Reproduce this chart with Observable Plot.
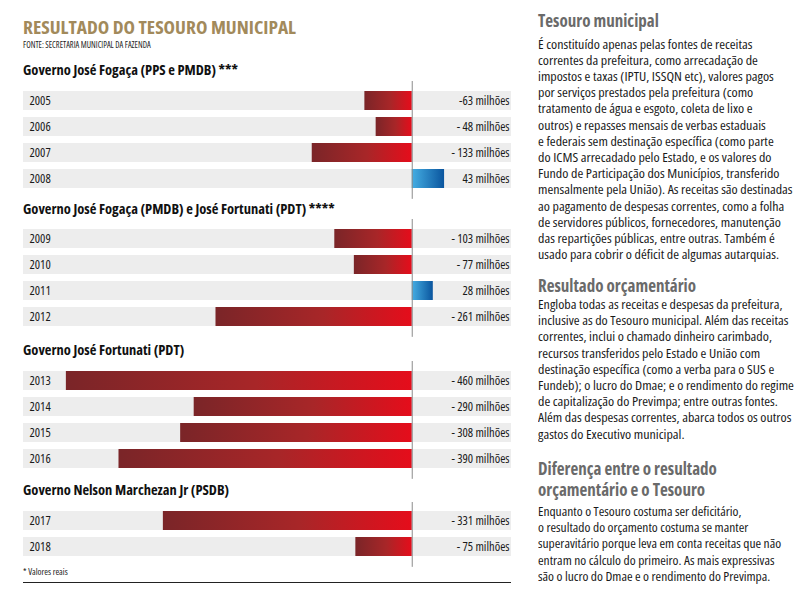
<!DOCTYPE html>
<html><head><meta charset="utf-8">
<script src="https://cdn.jsdelivr.net/npm/d3@7"></script>
<script src="https://cdn.jsdelivr.net/npm/@observablehq/plot@0.6"></script>
<style>
html,body{margin:0;padding:0;background:#fff}
body{width:800px;height:600px;position:relative;overflow:hidden;font-family:'Open Sans',sans-serif;font-stretch:75%;color:#1a1a1a}
.abs{position:absolute;white-space:nowrap}
.title{left:23px;top:19px;font-size:17px;line-height:17px;font-weight:700;color:#a28a5b;transform:scaleX(1.14);transform-origin:0 0}
.src{left:23px;top:40.5px;font-size:8.4px;line-height:8.4px;color:#222}
.ghead{left:23px;font-size:14.5px;line-height:14.5px;font-weight:700;color:#111}
.note{left:23px;font-size:9px;line-height:9px;color:#222}
.rule{left:23px;width:488px;height:0;border-top:1px solid #222}
.rh{left:538px;font-size:17px;line-height:17px;font-weight:700;color:#6a6a6a}
.rb{left:538px;font-size:12.6px;line-height:16.2px;color:#1a1a1a;transform:scaleX(1.11);transform-origin:0 0}
.rb.narrow{transform:scaleX(1.07)}
.plotbox{position:absolute;left:23px}
</style></head>
<body>
<div class="abs title">RESULTADO DO TESOURO MUNICIPAL</div>
<div class="abs src">FONTE: SECRETARIA MUNICIPAL DA FAZENDA</div>
<div id="left"></div>
<div class="abs note" style="top:567px">* Valores reais</div>
<div class="abs rule" style="top:582px"></div>

<div class="abs rh" style="top:12px">Tesouro municipal</div>
<div class="abs rb" style="top:36.5px">É constituído apenas pelas fontes de receitas<br>correntes da prefeitura, como arrecadação de<br>impostos e taxas (IPTU, ISSQN etc), valores pagos<br>por serviços prestados pela prefeitura (como<br>tratamento de água e esgoto, coleta de lixo e<br>outros) e repasses mensais de verbas estaduais<br>e federais sem destinação específica (como parte<br>do ICMS arrecadado pelo Estado, e os valores do<br>Fundo de Participação dos Municípios, transferido<br>mensalmente pela União). As receitas são destinadas<br>ao pagamento de despesas correntes, como a folha<br>de servidores públicos, fornecedores, manutenção<br>das repartições públicas, entre outras. Também é<br>usado para cobrir o déficit de algumas autarquias.</div>
<div class="abs rh" style="top:277px">Resultado orçamentário</div>
<div class="abs rb" style="top:297px">Engloba todas as receitas e despesas da prefeitura,<br>inclusive as do Tesouro municipal. Além das receitas<br>correntes, inclui o chamado dinheiro carimbado,<br>recursos transferidos pelo Estado e União com<br>destinação específica (como a verba para o SUS e<br>Fundeb); o lucro do Dmae; e o rendimento do regime<br>de capitalização do Previmpa; entre outras fontes.<br>Além das despesas correntes, abarca todos os outros<br>gastos do Executivo municipal.</div>
<div class="abs rh" style="top:459.5px">Diferença entre o resultado</div>
<div class="abs rh" style="top:480.5px">orçamentário e o Tesouro</div>
<div class="abs rb narrow" style="top:504px">Enquanto o Tesouro costuma ser deficitário,<br>o resultado do orçamento costuma se manter<br>superavitário porque leva em conta receitas que não<br>entram no cálculo do primeiro. As mais expressivas<br>são o lucro do Dmae e o rendimento do Previmpa.</div>

<script>
// ---- data ----
const groups = [
  "Governo José Fogaça (PPS e PMDB) ***",
  "Governo José Fogaça (PMDB) e José Fortunati (PDT) ****",
  "Governo José Fortunati (PDT)",
  "Governo Nelson Marchezan Jr (PSDB)"
];
const years = ["2005","2006","2007","2008","2009","2010","2011","2012","2013","2014","2015","2016","2017","2018"];
const values = [-63,-48,-133,43,-103,-77,28,-261,-460,-290,-308,-390,-331,-75];
const valueLabels = ["-63 milhões","- 48 milhões","- 133 milhões","43 milhões","- 103 milhões","- 77 milhões","28 milhões","- 261 milhões","- 460 milhões","- 290 milhões","- 308 milhões","- 390 milhões","- 331 milhões","- 75 milhões"];
const groupIndex = [0,0,0,0,1,1,1,1,2,2,2,2,3,3];

// ---- layout ----
const plotTops = [81, 219, 361, 502];
const headBaselines = [76, 215, 356, 496];
const step = 26.5, padIn = 0.27, extTop = 9, extBottom = 10;
const bandW = step * (1 - padIn);

const rows = years.map((y, i) => ({year: y, value: values[i], label: valueLabels[i], g: groupIndex[i]}));
const left = document.getElementById("left");

function gradDefs(id) {
  return () => {
    const defs = d3.create("svg:defs");
    const r = defs.append("linearGradient").attr("id", "red" + id).attr("x1", 0).attr("x2", 1).attr("y1", 0).attr("y2", 0);
    r.append("stop").attr("offset", "0%").attr("stop-color", "#7a2528");
    r.append("stop").attr("offset", "55%").attr("stop-color", "#a82628");
    r.append("stop").attr("offset", "100%").attr("stop-color", "#e50d1b");
    const b = defs.append("linearGradient").attr("id", "blue" + id).attr("x1", 0).attr("x2", 1).attr("y1", 0).attr("y2", 0);
    b.append("stop").attr("offset", "0%").attr("stop-color", "#45aee3");
    b.append("stop").attr("offset", "100%").attr("stop-color", "#0a559e");
    return defs.node();
  };
}

groups.forEach((name, gi) => {
  const data = rows.filter(d => d.g === gi);
  const n = data.length;
  const h = extTop + (n - 1) * step + bandW + extBottom;
  const inner = step * (n - padIn);
  const align = extTop / (h - inner);
  const padOut = (h / step - (n - padIn)) / 2;

  const head = document.createElement("div");
  head.className = "abs ghead";
  head.textContent = name;
  head.style.top = (headBaselines[gi] - 0.888 * 14.5) + "px";
  left.appendChild(head);

  const chart = Plot.plot({
    width: 488,
    height: h,
    margin: 0,
    style: {fontFamily: "'Open Sans', sans-serif", fontStretch: "75%", background: "transparent", color: "#1a1a1a"},
    x: {domain: [-517, 132], axis: null},
    y: {domain: data.map(d => d.year), axis: null, paddingInner: padIn, paddingOuter: padOut, align},
    marks: [
      gradDefs(gi),
      Plot.cell(data, {y: "year", fill: "#ededed"}),
      Plot.barX(data.filter(d => d.value < 0), {x: "value", y: "year", fill: `url(#red${gi})`}),
      Plot.barX(data.filter(d => d.value >= 0), {x: "value", y: "year", fill: `url(#blue${gi})`}),
      Plot.ruleX([0], {stroke: "#8c8c8c", strokeWidth: 1}),
      Plot.text(data, {y: "year", text: "year", frameAnchor: "left", dx: 6, textAnchor: "start", fontSize: 12.5, fill: "#1a1a1a"}),
      Plot.text(data, {y: "year", text: "label", frameAnchor: "right", dx: -2, textAnchor: "end", fontSize: 12.5, fill: "#1a1a1a"})
    ]
  });
  const box = document.createElement("div");
  box.className = "plotbox";
  box.style.top = plotTops[gi] + "px";
  box.appendChild(chart);
  left.appendChild(box);
});
</script>
</body></html>
